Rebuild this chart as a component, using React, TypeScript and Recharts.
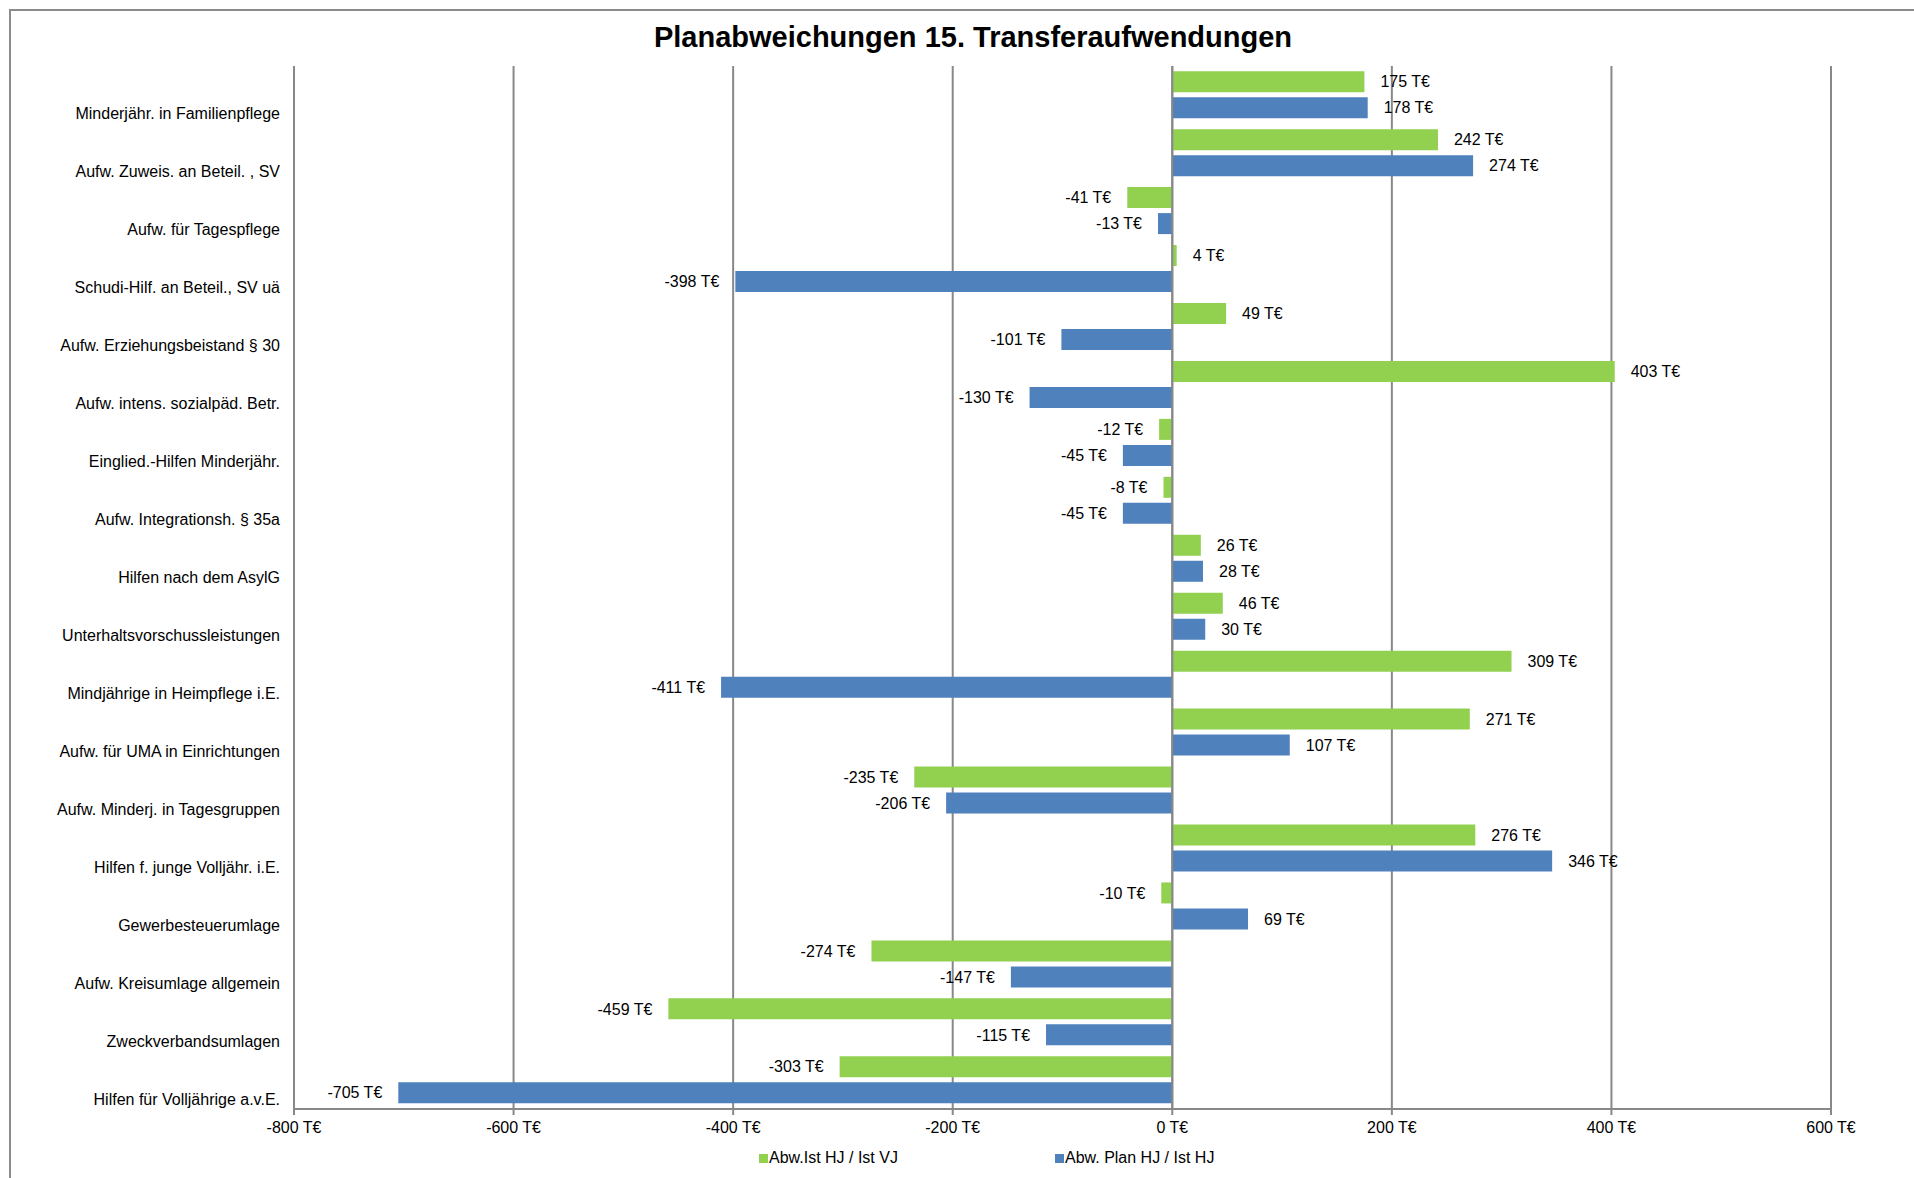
import React from 'react'
import {
  BarChart,
  Bar,
  XAxis,
  YAxis,
  CartesianGrid,
  Legend,
  LabelList,
  ReferenceLine,
} from 'recharts'

const FONT = '"Liberation Sans", Arial, sans-serif'

const categories = [
  'Minderjähr. in Familienpflege',
  'Aufw. Zuweis. an Beteil. , SV',
  'Aufw. für Tagespflege',
  'Schudi-Hilf. an Beteil., SV uä',
  'Aufw. Erziehungsbeistand § 30',
  'Aufw. intens. sozialpäd. Betr.',
  'Einglied.-Hilfen Minderjähr.',
  'Aufw. Integrationsh. § 35a',
  'Hilfen nach dem AsylG',
  'Unterhaltsvorschussleistungen',
  'Mindjährige in Heimpflege i.E.',
  'Aufw. für UMA in Einrichtungen',
  'Aufw. Minderj. in Tagesgruppen',
  'Hilfen f. junge Volljähr. i.E.',
  'Gewerbesteuerumlage',
  'Aufw. Kreisumlage allgemein',
  'Zweckverbandsumlagen',
  'Hilfen für Volljährige a.v.E.',
]

// Abw.Ist HJ / Ist VJ
const istVsVorjahr = [175, 242, -41, 4, 49, 403, -12, -8, 26, 46, 309, 271, -235, 276, -10, -274, -459, -303]
// Abw. Plan HJ / Ist HJ
const planVsIst = [178, 274, -13, -398, -101, -130, -45, -45, 28, 30, -411, 107, -206, 346, 69, -147, -115, -705]

const seriesNames = ['Abw.Ist HJ / Ist VJ', 'Abw. Plan HJ / Ist HJ']
const seriesColors = ['#92D050', '#4F81BD']
const xTicks = [-800, -600, -400, -200, 0, 200, 400, 600]

const data = categories.map((name, i) => ({
  name,
  ist: istVsVorjahr[i],
  plan: planVsIst[i],
}))

const fmt = (v: number) => `${v} T€`

const CategoryTick = ({ x, y, payload }: any) => (
  <text
    x={x}
    y={y + 19}
    textAnchor="end"
    dominantBaseline="central"
    fontSize={16}
    fontFamily={FONT}
    fill="#000"
  >
    {payload.value}
  </text>
)

const LegendContent = () => (
  <div style={{ position: 'relative', height: 20, width: 1914, fontFamily: FONT, fontSize: 16 }}>
    {seriesNames.map((n, i) => (
      <div
        key={n}
        style={{
          position: 'absolute',
          left: i === 0 ? 759 : 1055,
          top: 0,
          height: 20,
          lineHeight: '20px',
          display: 'flex',
          alignItems: 'center',
          color: '#000',
          whiteSpace: 'nowrap',
        }}
      >
        <span style={{ width: 9, height: 9, background: seriesColors[i], marginRight: 1 }} />
        <span>{n}</span>
      </div>
    ))}
  </div>
)

export default function App() {
  return (
    <div
      style={{
        position: 'relative',
        width: 1914,
        height: 1178,
        overflow: 'hidden',
        background: '#fff',
        fontFamily: FONT,
      }}
    >
      <style>{'body{margin:0}'}</style>
      <div
        style={{
          position: 'absolute',
          left: 9,
          top: 9,
          width: 3000,
          height: 3000,
          border: '2px solid #8c8c8c',
        }}
      />
      <div
        style={{
          position: 'absolute',
          left: 973,
          top: 20,
          transform: 'translateX(-50%)',
          fontSize: 29,
          fontWeight: 'bold',
          lineHeight: '34px',
          whiteSpace: 'nowrap',
          color: '#000',
        }}
      >
        Planabweichungen 15. Transferaufwendungen
      </div>
      <div style={{ position: 'absolute', left: 0, top: 0 }}>
        <BarChart
          width={1914}
          height={1178}
          data={data}
          layout="vertical"
          margin={{ top: 66, right: 83, bottom: 10, left: 0 }}
          barCategoryGap="9%"
          barGap={5}
        >
          <CartesianGrid horizontal={false} stroke="#888" strokeWidth={2} />
          <XAxis
            type="number"
            domain={[-800, 600]}
            ticks={xTicks}
            interval={0}
            tickFormatter={fmt}
            height={39}
            axisLine={{ stroke: '#888', strokeWidth: 2 }}
            tickLine={{ stroke: '#888', strokeWidth: 2 }}
            tickSize={6}
            tickMargin={7}
            tick={{ fill: '#000', fontSize: 16, fontFamily: FONT }}
          />
          <YAxis
            type="category"
            dataKey="name"
            width={294}
            axisLine={false}
            tickLine={false}
            tickSize={0}
            tickMargin={14}
            interval={0}
            tick={<CategoryTick />}
          />
          <Legend verticalAlign="bottom" wrapperStyle={{ left: 0, width: 1914 }} content={<LegendContent />} />
          <Bar dataKey="ist" name={seriesNames[0]} fill={seriesColors[0]} isAnimationActive={false}>
            <LabelList
              dataKey="ist"
              position="right"
              offset={16}
              formatter={fmt}
              fill="#000"
              fontSize={16}
              fontFamily={FONT}
            />
          </Bar>
          <Bar dataKey="plan" name={seriesNames[1]} fill={seriesColors[1]} isAnimationActive={false}>
            <LabelList
              dataKey="plan"
              position="right"
              offset={16}
              formatter={fmt}
              fill="#000"
              fontSize={16}
              fontFamily={FONT}
            />
          </Bar>
          <ReferenceLine x={0} stroke="#888" strokeWidth={2} />
        </BarChart>
      </div>
    </div>
  )
}
